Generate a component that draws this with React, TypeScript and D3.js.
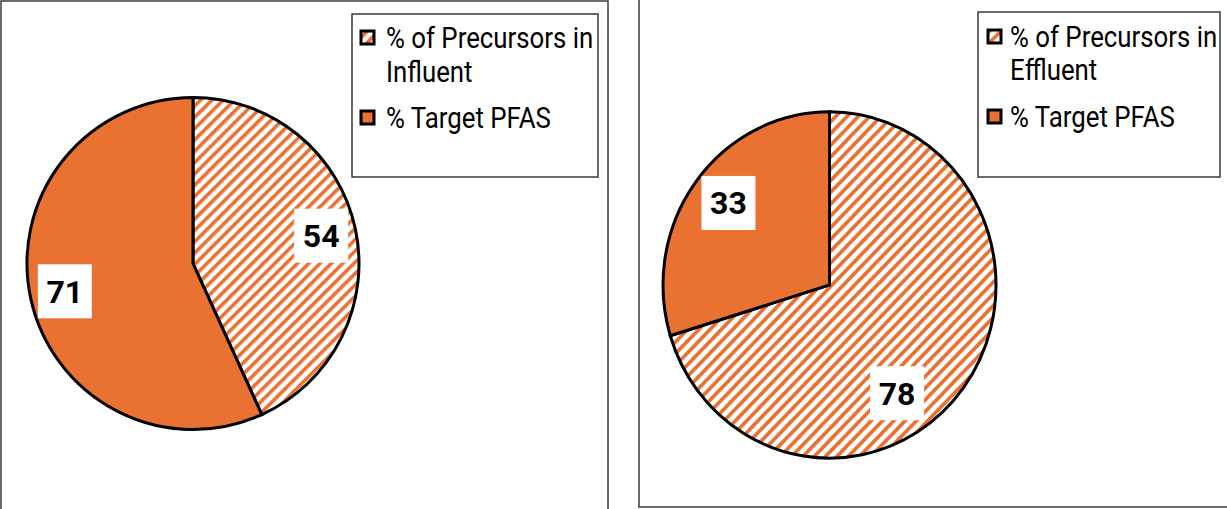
import React from "react";
import * as d3 from "d3";

// ---- data ----
const seriesNames = ["% of Precursors", "% Target PFAS"];
const influentValues = [54, 71];
const effluentValues = [78, 33];
const influentLegend = [["% of Precursors in", "Influent"], ["% Target PFAS"]];
const effluentLegend = [["% of Precursors in", "Effluent"], ["% Target PFAS"]];

const ORANGE = "#E97132";
const LEGEND_FONT = "Roboto, 'Liberation Sans', Arial, sans-serif";
const LABEL_FONT = "Roboto, 'Liberation Sans', Arial, sans-serif";
const LEGEND_SX = 0.89;

type PanelCfg = {
  id: string;
  values: number[];
  legend: string[][];
  frame: { x: number; y: number; w: number; h: number };
  cx: number;
  cy: number;
  r: number;
  sy: number;
  legendBox: { x: number; y: number; w: number; h: number };
  textX: number;
  swatchX: number;
  baselines: number[][];
  labelPos: [number, number][]; // [angle shift deg, radius fraction]
};

const panels: PanelCfg[] = [
  {
    id: "inf",
    values: influentValues,
    legend: influentLegend,
    frame: { x: 1, y: 1, w: 607, h: 530 },
    cx: 193,
    cy: 263.5,
    r: 166,
    sy: 1,
    legendBox: { x: 352, y: 14, w: 246, h: 163 },
    textX: 386,
    swatchX: 361,
    baselines: [[48, 82], [128]],
    labelPos: [[0, 0.79], [0, 0.79]],
  },
  {
    id: "eff",
    values: effluentValues,
    legend: effluentLegend,
    frame: { x: 639, y: -10, w: 600, h: 517 },
    cx: 829.5,
    cy: 285,
    r: 166.5,
    sy: 1.04,
    legendBox: { x: 978, y: 12, w: 242, h: 165 },
    textX: 1010,
    swatchX: 988,
    baselines: [[47, 80], [127]],
    labelPos: [[20.5, 0.745], [1.5, 0.77]],
  },
];

function fillFor(i: number) {
  return i === 0 ? "url(#hatch)" : ORANGE;
}

function PiePanel({ p }: { p: PanelCfg }) {
  const pie = d3.pie<number>().sort(null).startAngle(0).endAngle(2 * Math.PI);
  const arcs = pie(p.values);
  const arc = d3.arc<d3.PieArcDatum<number>>().innerRadius(0).outerRadius(p.r);
  const boxW = 54;
  const boxH = 54;
  return (
    <g>
      <rect
        x={p.frame.x}
        y={p.frame.y}
        width={p.frame.w}
        height={p.frame.h}
        fill="none"
        stroke="#3a3a3a"
        strokeWidth={1.5}
      />
      <g transform={`translate(${p.cx},${p.cy}) scale(1,${p.sy})`}>
        {arcs.map((a, i) => (
          <path
            key={i}
            d={arc(a) || ""}
            fill={fillFor(i)}
            stroke="#000"
            strokeWidth={3}
            strokeLinejoin="miter"
            vectorEffect="non-scaling-stroke"
          />
        ))}
      </g>
      {arcs.map((a, i) => {
        const [shift, frac] = p.labelPos[i];
        const mid = (a.startAngle + a.endAngle) / 2 + (shift * Math.PI) / 180;
        const lx = p.cx + Math.sin(mid) * p.r * frac;
        const ly = p.cy - Math.cos(mid) * p.r * frac * p.sy;
        return (
          <g key={"l" + i}>
            <rect x={lx - boxW / 2} y={ly - boxH / 2} width={boxW} height={boxH} fill="#fff" />
            <text
              x={lx}
              y={ly}
              dy="0.36em"
              textAnchor="middle"
              fontFamily={LABEL_FONT}
              fontWeight={700}
              fontSize={32}
              fill="#000"
            >
              {a.data}
            </text>
          </g>
        );
      })}
      <rect
        x={p.legendBox.x}
        y={p.legendBox.y}
        width={p.legendBox.w}
        height={p.legendBox.h}
        fill="#fff"
        stroke="#3a3a3a"
        strokeWidth={1.5}
      />
      {p.legend.map((lines, i) => (
        <g key={"lg" + i}>
          <rect
            x={p.swatchX}
            y={p.baselines[i][0] - 17}
            width={13}
            height={13}
            fill={fillFor(i)}
            stroke="#000"
            strokeWidth={3}
          />
          <g transform={`translate(${p.textX},0) scale(${LEGEND_SX},1)`}>
            {lines.map((t, j) => (
              <text
                key={j}
                x={0}
                y={p.baselines[i][j]}
                fontFamily={LEGEND_FONT}
                fontSize={29}
                fill="#000"
              >
                {t}
              </text>
            ))}
          </g>
        </g>
      ))}
    </g>
  );
}

export default function App() {
  return (
    <svg
      width={1227}
      height={509}
      style={{ position: "absolute", left: 0, top: 0, background: "#fff" }}
      aria-label={seriesNames.join(" / ")}
    >
      <defs>
        <pattern
          id="hatch"
          patternUnits="userSpaceOnUse"
          width={8}
          height={8}
          patternTransform="rotate(45)"
        >
          <rect x={0} y={0} width={8} height={8} fill="#fff" />
          <rect x={0} y={0} width={3.6} height={8} fill={ORANGE} />
        </pattern>
      </defs>
      <rect x={0} y={0} width={1227} height={509} fill="#fff" />
      {panels.map((p) => (
        <PiePanel key={p.id} p={p} />
      ))}
    </svg>
  );
}
